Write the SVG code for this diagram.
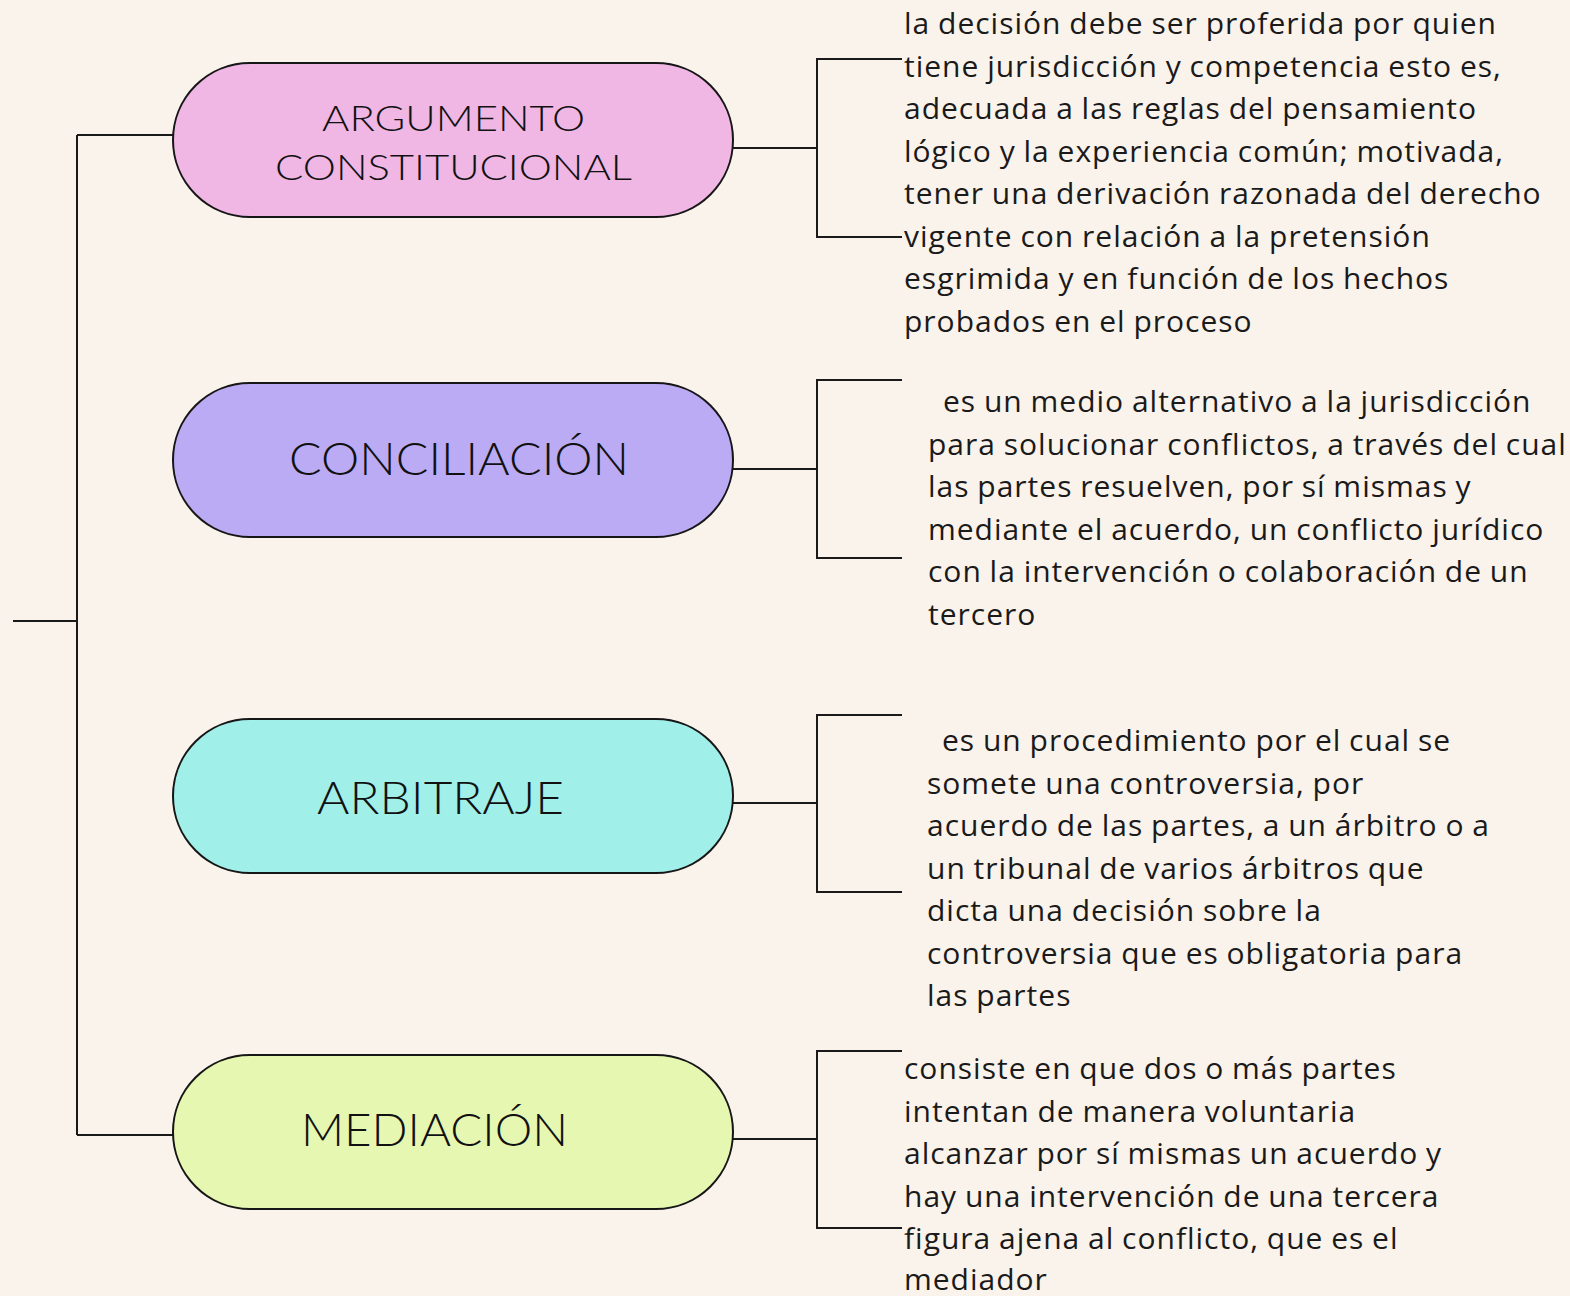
<svg xmlns="http://www.w3.org/2000/svg" width="1570" height="1296" viewBox="0 0 1570 1296">
<style>
.bg{fill:#faf3ec}
.node{stroke:#161616;stroke-width:2}
.lbl{font-family:Lato,"Open Sans",sans-serif;font-weight:300;fill:#111;text-anchor:middle}
.desc{font-family:"Open Sans","Noto Sans",sans-serif;font-weight:400;font-size:30px;letter-spacing:1px;word-spacing:-1px;fill:#1a1a1a}
.conn{fill:none;stroke:#1a1a1a;stroke-width:2}
</style>
<rect class="bg" x="0" y="0" width="1570" height="1296"/>
<g id="connectors">
<path class="conn" d="M13 621H77M77 135V1135M77 135H173M77 1135H173"/>
<path class="conn" d="M733 148H817M902 59H817V237H902"/>
<path class="conn" d="M733 469H817M902 380H817V558H902"/>
<path class="conn" d="M733 803H817M902 715H817V892H902"/>
<path class="conn" d="M733 1139H817M902 1051H817V1228H902"/>
</g>
<g id="node-argumento">
<rect class="node" x="173" y="63" width="560" height="154" rx="77" fill="#f0b6e4"/>
<text class="lbl" x="453.5" y="131" font-size="36" textLength="263" lengthAdjust="spacingAndGlyphs">ARGUMENTO</text>
<text class="lbl" x="453.5" y="180" font-size="36" textLength="357" lengthAdjust="spacingAndGlyphs">CONSTITUCIONAL</text>
</g>
<g id="node-conciliacion">
<rect class="node" x="173" y="383" width="560" height="154" rx="77" fill="#bbabf5"/>
<text class="lbl" x="459" y="475" font-size="45" textLength="340" lengthAdjust="spacingAndGlyphs">CONCILIACIÓN</text>
</g>
<g id="node-arbitraje">
<rect class="node" x="173" y="719" width="560" height="154" rx="77" fill="#a1efe9"/>
<text class="lbl" x="440.5" y="814" font-size="45" textLength="247" lengthAdjust="spacingAndGlyphs">ARBITRAJE</text>
</g>
<g id="node-mediacion">
<rect class="node" x="173" y="1055" width="560" height="154" rx="77" fill="#e6f7b1"/>
<text class="lbl" x="434.5" y="1146" font-size="45" textLength="267" lengthAdjust="spacingAndGlyphs">MEDIACIÓN</text>
</g>
<g id="text-argumento">
<text class="desc" x="904" y="34">la decisión debe ser proferida por quien</text>
<text class="desc" x="904" y="76.5">tiene jurisdicción y competencia esto es,</text>
<text class="desc" x="904" y="119">adecuada a las reglas del pensamiento</text>
<text class="desc" x="904" y="161.5">lógico y la experiencia común; motivada,</text>
<text class="desc" x="904" y="204">tener una derivación razonada del derecho</text>
<text class="desc" x="904" y="246.5">vigente con relación a la pretensión</text>
<text class="desc" x="904" y="289">esgrimida y en función de los hechos</text>
<text class="desc" x="904" y="331.5">probados en el proceso</text>
</g>
<g id="text-conciliacion">
<text class="desc" x="943" y="412">es un medio alternativo a la jurisdicción</text>
<text class="desc" x="928" y="454.5">para solucionar conflictos, a través del cual</text>
<text class="desc" x="928" y="497">las partes resuelven, por sí mismas y</text>
<text class="desc" x="928" y="539.5">mediante el acuerdo, un conflicto jurídico</text>
<text class="desc" x="928" y="582">con la intervención o colaboración de un</text>
<text class="desc" x="928" y="624.5">tercero</text>
</g>
<g id="text-arbitraje">
<text class="desc" x="942" y="751">es un procedimiento por el cual se</text>
<text class="desc" x="927" y="793.5">somete una controversia, por</text>
<text class="desc" x="927" y="836">acuerdo de las partes, a un árbitro o a</text>
<text class="desc" x="927" y="878.5">un tribunal de varios árbitros que</text>
<text class="desc" x="927" y="921">dicta una decisión sobre la</text>
<text class="desc" x="927" y="963.5">controversia que es obligatoria para</text>
<text class="desc" x="927" y="1006">las partes</text>
</g>
<g id="text-mediacion">
<text class="desc" x="904" y="1079">consiste en que dos o más partes</text>
<text class="desc" x="904" y="1121.5">intentan de manera voluntaria</text>
<text class="desc" x="904" y="1164">alcanzar por sí mismas un acuerdo y</text>
<text class="desc" x="904" y="1206.5">hay una intervención de una tercera</text>
<text class="desc" x="904" y="1249">figura ajena al conflicto, que es el</text>
<text class="desc" x="904" y="1290">mediador</text>
</g>
</svg>
